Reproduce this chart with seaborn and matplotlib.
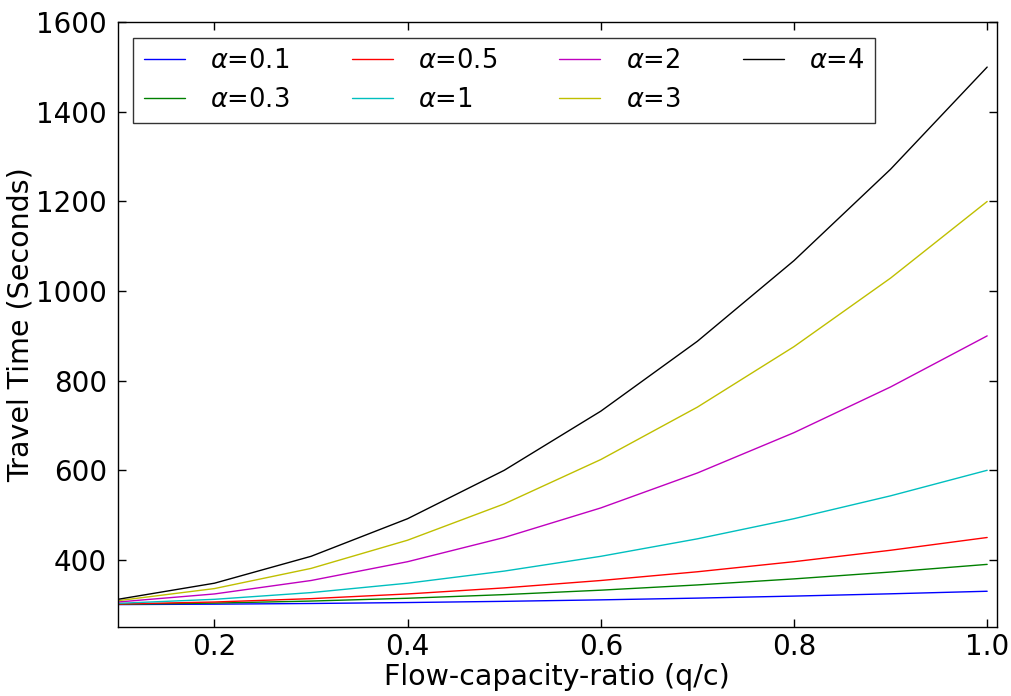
import matplotlib
matplotlib.use('Agg')
import matplotlib.pyplot as plt
import seaborn as sns
import pandas as pd

# flow-capacity ratio values
ratio = [0.1, 0.2, 0.3, 0.4, 0.5, 0.6, 0.7, 0.8, 0.9, 1.0]

# travel time curves
t_a01 = [300.3, 301.2, 302.7, 304.8, 307.5, 310.8, 314.7, 319.2, 324.3, 330]
t_a03 = [300.9, 303.6, 308.1, 314.4, 322.5, 332.4, 344.1, 357.6, 372.9, 390]
t_a05 = [301.5, 306, 313.5, 324, 337.5, 354, 373.5, 396, 421.5, 450]
t_a1 = [303, 312, 327, 348, 375, 408, 447, 492, 543, 600]
t_a2 = [306, 324, 354, 396, 450, 516, 594, 684, 786, 900]
t_a3 = [309, 336, 381, 444, 525, 624, 741, 876, 1029, 1200]
t_a4 = [312, 348, 408, 492, 600, 732, 888, 1068, 1272, 1500]

labels = [r'$\alpha$=0.1', r'$\alpha$=0.3', r'$\alpha$=0.5', r'$\alpha$=1',
          r'$\alpha$=2', r'$\alpha$=3', r'$\alpha$=4']
series = [t_a01, t_a03, t_a05, t_a1, t_a2, t_a3, t_a4]
colors = ['b', 'g', 'r', 'c', 'm', 'y', 'k']

# build long dataframe for seaborn
rows = []
for lab, vals in zip(labels, series):
    for x, y in zip(ratio, vals):
        rows.append({'ratio': x, 'time': y, 'alpha': lab})
df = pd.DataFrame(rows)

sns.set_style('ticks')
plt.rcParams['font.family'] = ['DejaVu Sans']
plt.rcParams['mathtext.fontset'] = 'dejavusans'
plt.rcParams['text.color'] = 'black'
plt.rcParams['axes.labelcolor'] = 'black'
plt.rcParams['xtick.color'] = 'black'
plt.rcParams['ytick.color'] = 'black'

fig = plt.figure(figsize=(10.12, 6.96), dpi=100)
ax = fig.add_axes([0.1165, 0.099, 0.8685, 0.869])

sns.lineplot(data=df, x='ratio', y='time', hue='alpha', hue_order=labels,
             palette=dict(zip(labels, colors)), linewidth=1, ax=ax)

ax.set_xlim(0.1, 1.01)
ax.set_ylim(250, 1600)
ax.set_xticks([0.2, 0.4, 0.6, 0.8, 1.0])
ax.set_yticks([400, 600, 800, 1000, 1200, 1400, 1600])
ax.tick_params(direction='in', top=True, right=True, labelsize=20, length=6,
               width=1)
ax.tick_params(axis='y', pad=8)
ax.tick_params(axis='x', pad=4)
for s in ax.spines.values():
    s.set_visible(True)
    s.set_linewidth(1)
    s.set_color('black')
ax.set_xlabel('Flow-capacity-ratio (q/c)', fontsize=20.5, labelpad=2)
ax.set_ylabel('Travel Time (Seconds)', fontsize=20.5, labelpad=1)

leg = ax.legend(ncol=4, loc='upper left', fontsize=18.5, frameon=True,
                fancybox=False, handlelength=1.6, handletextpad=1.0,
                columnspacing=2.4, borderaxespad=0.6)
leg.get_frame().set_edgecolor('black')
leg.get_frame().set_linewidth(1)

fig.savefig('out.png', dpi=100)
